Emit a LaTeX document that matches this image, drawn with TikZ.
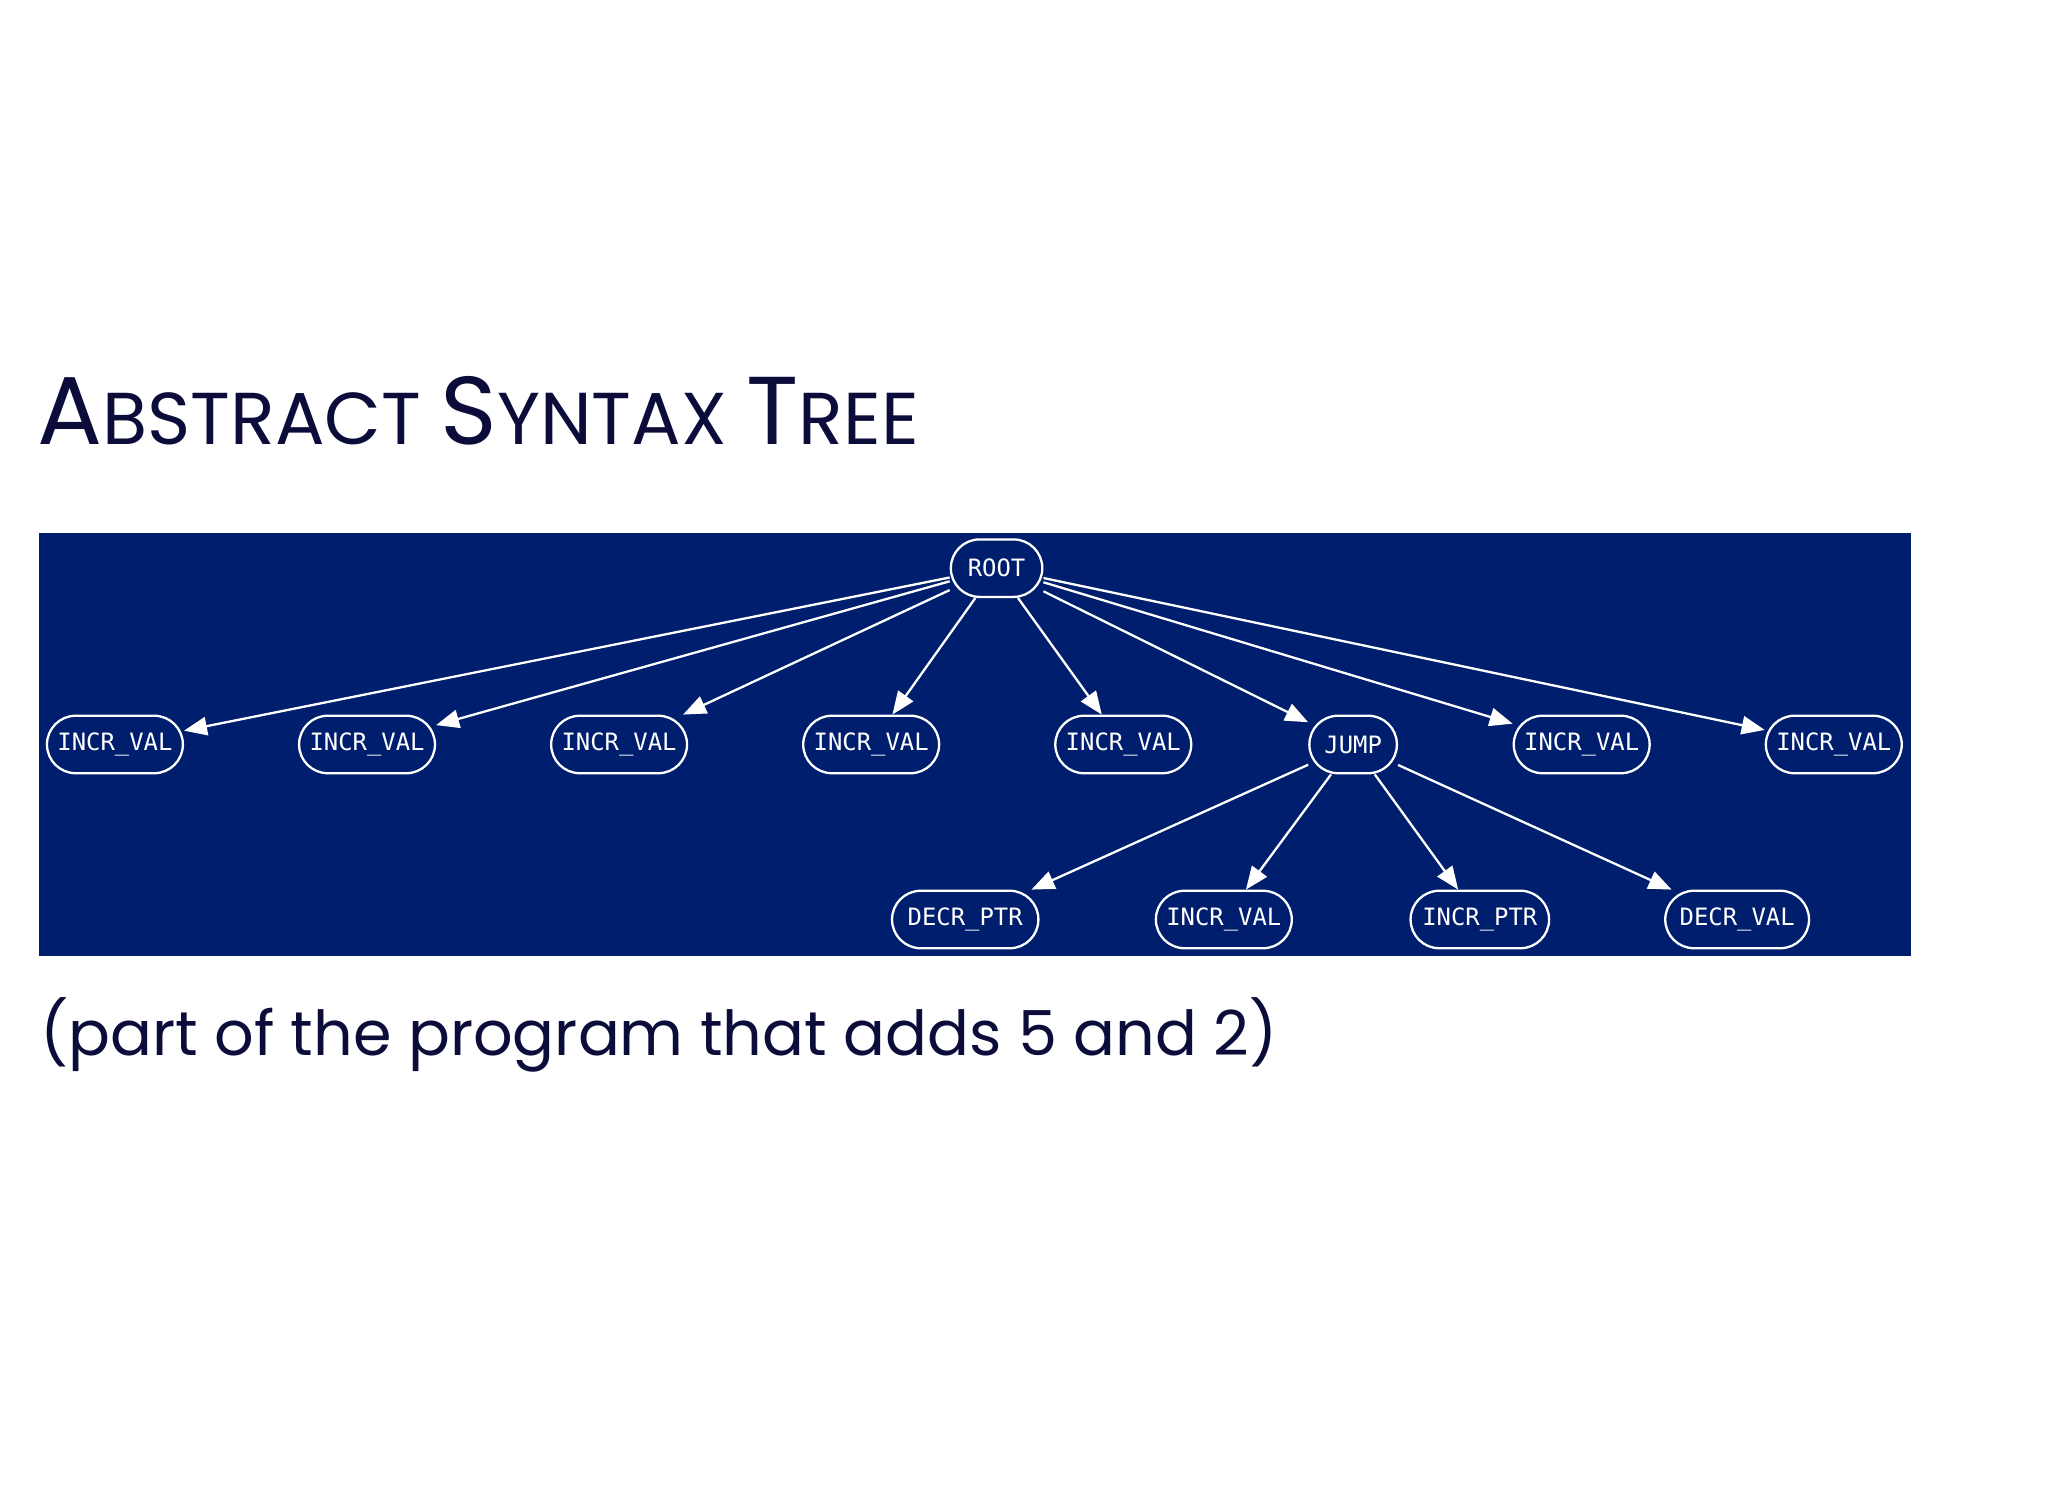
\documentclass[tikz,border=0pt]{standalone}
\usepackage{fontspec}
\setmainfont{Poppins}
\newfontfamily\monof{DejaVu Sans Mono}
\usetikzlibrary{arrows.meta}
\definecolor{bgblue}{HTML}{001E6E}
\definecolor{ink}{HTML}{0B0C3A}
\tikzset{
 ast/.style={draw=white,text=white,rounded corners=2.2mm,minimum height=0.44cm,inner xsep=1.5pt,font=\monof\fontsize{5.2}{6}\selectfont,line width=0.5pt},
 edge/.style={draw=white,line width=0.5pt,-{Triangle[length=5pt,width=4pt]}}
}
\begin{document}
\begin{tikzpicture}[x=0.01cm,y=-0.01cm]
\useasboundingbox (0,0) rectangle (1568,1143);
\fill[white] (0,0) rectangle (1568,1143);
\node[anchor=base west,text=ink,inner sep=0] (title) at (28,340) {\fontsize{21}{24}\selectfont A\fontsize{16}{20}\selectfont BSTRACT \fontsize{21}{24}\selectfont S\fontsize{16}{20}\selectfont YNTAX \fontsize{21}{24}\selectfont T\fontsize{16}{20}\selectfont REE};
\fill[bgblue] (30,408) rectangle (1463,732);
\node[ast,minimum width=0.70cm] (root) at (763,435) {ROOT};
\foreach \x/\n in {88/a,281/b,474/c,667/d,860/e,1211/g,1404/h}{
  \node[ast,minimum width=1.04cm] (\n) at (\x,570) {INCR\_VAL};
}
\node[ast,minimum width=0.67cm] (jump) at (1036,570) {JUMP};
\node[ast,minimum width=1.12cm] (p) at (739,704) {DECR\_PTR};
\node[ast,minimum width=1.04cm] (q) at (937,704) {INCR\_VAL};
\node[ast,minimum width=1.06cm] (r) at (1133,704) {INCR\_PTR};
\node[ast,minimum width=1.10cm] (s) at (1330,704) {DECR\_VAL};
\foreach \n in {a,b,c,d,e,jump,g,h}{\draw[edge] (root) -- (\n);}
\foreach \n in {p,q,r,s}{\draw[edge] (jump) -- (\n);}
\node[anchor=base west,text=ink,inner sep=0] (sub) at (30,808) {\fontsize{13.5}{16}\selectfont (part of the program that adds 5 and 2)};
\end{tikzpicture}
\end{document}
